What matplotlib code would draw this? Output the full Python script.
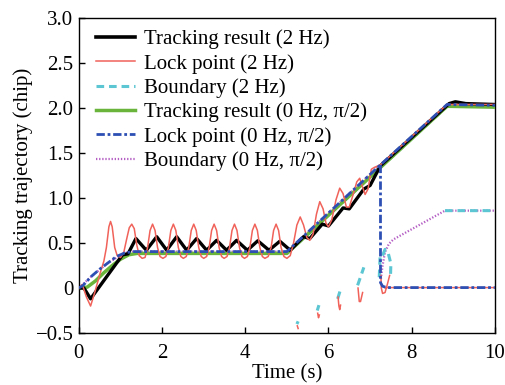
import numpy as np
import matplotlib
matplotlib.use('Agg')
import matplotlib.pyplot as plt

plt.rcParams['font.family'] = ['Liberation Serif', 'DejaVu Serif']
plt.rcParams['mathtext.fontset'] = 'stix'

nan = np.nan

# Tracking result (2 Hz) - black
black_t = [0, 0.12, 0.28, 1.05, 1.18, 1.37, 1.62, 1.87, 2.11, 2.35, 2.59, 2.83, 3.07, 3.31, 3.55,
           3.79, 4.05, 4.30, 4.57, 4.83, 5.08, 5.4, 5.55, 5.85, 6.0, 6.35, 6.5, 6.85, 7.0, 7.25,
           8.9, 9.05, 9.3, 10]
black_v = [0, 0, -0.12, 0.37, 0.38, 0.55, 0.42, 0.57, 0.42, 0.57, 0.42, 0.55, 0.42, 0.53, 0.42,
           0.53, 0.42, 0.525, 0.42, 0.52, 0.42, 0.57, 0.55, 0.71, 0.69, 0.89, 0.88, 1.1, 1.14, 1.36,
           2.05, 2.07, 2.05, 2.04]

# Lock point (2 Hz) - red
red_t = [0, 0.08, 0.18, 0.28, 0.38, 0.5, 0.6, 0.66, 0.72, 0.76, 0.8, 0.86, 0.92, 1.0,
         1.08, 1.15, 1.21, 1.27, 1.33, 1.39, 1.45, 1.52, 1.59,
         1.65, 1.71, 1.77, 1.83, 1.89, 1.95, 2.02, 2.09,
         2.15, 2.21, 2.27, 2.33, 2.39, 2.45, 2.51, 2.58,
         2.64, 2.70, 2.76, 2.82, 2.88, 2.94, 3.0, 3.07,
         3.13, 3.19, 3.25, 3.31, 3.37, 3.43, 3.49, 3.56,
         3.62, 3.68, 3.74, 3.80, 3.86, 3.92, 3.98, 4.05,
         4.11, 4.17, 4.23, 4.29, 4.35, 4.41, 4.47, 4.55,
         4.62, 4.68, 4.74, 4.80, 4.86, 4.93, 5.0, 5.08,
         5.16, 5.24, 5.32, 5.4, 5.48, 5.55, 5.63, 5.71, 5.79, 5.87, 5.94, 6.0, 6.08,
         6.18, 6.27, 6.35, 6.43, 6.5, 6.6, 6.68, 6.75, 6.82, 6.88, 6.95, 7.03, 7.1, 7.25,
         8.85, 10]
red_v = [0, 0.04, -0.1, -0.2, -0.05, 0.15, 0.3, 0.45, 0.68, 0.74, 0.68, 0.45, 0.36, 0.34,
         0.4, 0.55, 0.67, 0.71, 0.66, 0.48, 0.36, 0.33, 0.34,
         0.45, 0.64, 0.71, 0.64, 0.45, 0.35, 0.33, 0.35,
         0.45, 0.64, 0.71, 0.64, 0.45, 0.35, 0.33, 0.35,
         0.45, 0.64, 0.71, 0.64, 0.45, 0.35, 0.33, 0.35,
         0.45, 0.64, 0.71, 0.64, 0.45, 0.35, 0.33, 0.35,
         0.45, 0.64, 0.71, 0.64, 0.45, 0.35, 0.33, 0.35,
         0.45, 0.64, 0.71, 0.64, 0.45, 0.35, 0.33, 0.35,
         0.45, 0.64, 0.71, 0.64, 0.45, 0.35, 0.33, 0.36,
         0.5, 0.7, 0.79, 0.7, 0.56, 0.53, 0.6, 0.82, 0.96, 0.88, 0.72, 0.68, 0.76,
         0.98, 1.11, 1.05, 0.9, 0.9, 1.05, 1.18, 1.22, 1.12, 1.04, 1.1, 1.32, 1.34, 1.37,
         2.04, 2.04]
# wrapped lock point pieces (2 Hz)
red_frag_t = [5.25, 5.27, nan, 5.74, 5.76, 5.78, nan, 6.23, 6.25, 6.27, 6.29, nan,
              6.71, 6.74, 6.77, 6.82, nan, 7.26, 7.27, 7.3, 7.36, 7.42, 7.47, nan, 7.36, 10]
red_frag_v = [-0.42, -0.45, nan, -0.28, -0.33, -0.3, nan, -0.1, -0.2, -0.24, -0.19, nan,
              0.0, -0.15, -0.15, -0.05, nan, 0.14, 0.0, -0.06, -0.05, 0.05, 0.14, nan, 0.005, 0.005]

# Boundary (2 Hz) - cyan
cyan_t = [5.0, 8.85, 10, nan, 5.24, 5.27, nan, 5.73, 5.77, nan, 6.22, 6.3, nan, 6.7, 6.85, nan,
          7.22, 7.24, nan, 7.3, 7.36, 7.44, 7.5, 7.49, nan, 8.8, 10]
cyan_v = [0.385, 2.02, 2.02, nan, -0.4, -0.37, nan, -0.25, -0.19, nan, -0.12, 0.0, nan, 0.03, 0.23, nan,
          0.12, 0.34, nan, 0.36, 0.43, 0.38, 0.27, 0.13, nan, 0.86, 0.86]

# Tracking result (0 Hz, pi/2) - green
green_t = [0, 0.2, 0.4, 0.6, 0.8, 1.0, 1.2, 1.4, 5.0, 8.85, 10]
green_v = [0, 0.01, 0.08, 0.17, 0.25, 0.32, 0.37, 0.385, 0.385, 2.02, 2.01]

# Lock point (0 Hz, pi/2) - blue
blue_t = [0, 0.1, 0.3, 0.5, 0.7, 0.9, 1.1, 1.3, 5.0, 7.25, 8.85, 10]
blue_v = [0, 0.03, 0.13, 0.21, 0.28, 0.35, 0.39, 0.405, 0.405, 1.37, 2.04, 2.03]
blue_drop_t = [7.25, 7.25, 7.3, 7.4, 10]
blue_drop_v = [1.37, 0.06, 0.02, 0.005, 0.005]

# Boundary (0 Hz, pi/2) - magenta
mag_t = [0, 0.3, 0.7, 1.1, 1.3, 5.0, 7.25, nan, 7.26, 7.3, 7.36, 7.45, 7.56, 8.8, 10]
mag_v = [0, 0.13, 0.28, 0.39, 0.405, 0.405, 1.37, nan, 0.1, 0.25, 0.4, 0.49, 0.54, 0.86, 0.86]

labels = ['Tracking result (2 Hz)', 'Lock point (2 Hz)', 'Boundary (2 Hz)',
          'Tracking result (0 Hz, \u03c0/2)', 'Lock point (0 Hz, \u03c0/2)', 'Boundary (0 Hz, \u03c0/2)']
xticks = [0, 2, 4, 6, 8, 10]
yticks = [-0.5, 0, 0.5, 1.0, 1.5, 2.0, 2.5, 3.0]
ytick_labels = ['\u22120.5', '0', '0.5', '1.0', '1.5', '2.0', '2.5', '3.0']

c_black = '#000000'
c_red = '#f0625a'
c_cyan = '#5cc6d2'
c_green = '#6ab43c'
c_blue = '#2d4fb4'
c_mag = '#b45ec4'

fs = 15

fig = plt.figure(figsize=(5.06, 3.85), dpi=100)
ax = fig.add_axes([0.156, 0.135, 0.822, 0.818])

ax.plot(mag_t, mag_v, color=c_mag, lw=1.6, ls=(0, (0.6, 0.8)), zorder=1)
ax.plot(cyan_t, cyan_v, color=c_cyan, lw=2.2, ls=(0, (2.5, 1.6)), zorder=2)
ax.plot(green_t, green_v, color=c_green, lw=2.5, zorder=3)
ax.plot(black_t, black_v, color=c_black, lw=2.4, zorder=4)
ax.plot(red_t, red_v, color=c_red, lw=1.1, zorder=5)
ax.plot(red_frag_t, red_frag_v, color=c_red, lw=1.1, zorder=5)
ax.plot(blue_t, blue_v, color=c_blue, lw=2.0, ls=(0, (3, 1, 1, 1)), zorder=6)
ax.plot(blue_drop_t, blue_drop_v, color=c_blue, lw=2.0, ls=(0, (3, 1, 1, 1)), zorder=6)

# legend handles
h = [plt.Line2D([], [], color=c_black, lw=2.6),
     plt.Line2D([], [], color=c_red, lw=1.1),
     plt.Line2D([], [], color=c_cyan, lw=2.2, ls=(0, (2.5, 1.6))),
     plt.Line2D([], [], color=c_green, lw=2.5),
     plt.Line2D([], [], color=c_blue, lw=2.0, ls=(0, (3, 1, 1, 1))),
     plt.Line2D([], [], color=c_mag, lw=1.6, ls=(0, (0.6, 0.8)))]
ax.legend(h, labels, loc='upper left', frameon=False, fontsize=fs, handlelength=1.9,
          handletextpad=0.4, labelspacing=0.22, borderaxespad=0.0, bbox_to_anchor=(0.02, 0.99))

ax.set_xlim(0, 10)
ax.set_ylim(-0.5, 3.0)
ax.set_xticks(xticks)
ax.set_xticklabels([str(x) for x in xticks])
ax.set_yticks(yticks)
ax.set_yticklabels(ytick_labels)
ax.tick_params(axis='y', direction='in', length=4, labelsize=fs, width=1, right=False, pad=4)
ax.tick_params(axis='x', direction='in', length=4, labelsize=fs, width=1, top=False, pad=8)
ax.set_xlabel('Time (s)', fontsize=fs, labelpad=1)
ax.set_ylabel('Tracking trajectory (chip)', fontsize=fs, labelpad=2)
for s in ax.spines.values():
    s.set_linewidth(1.0)

fig.savefig('out.png', dpi=100)
